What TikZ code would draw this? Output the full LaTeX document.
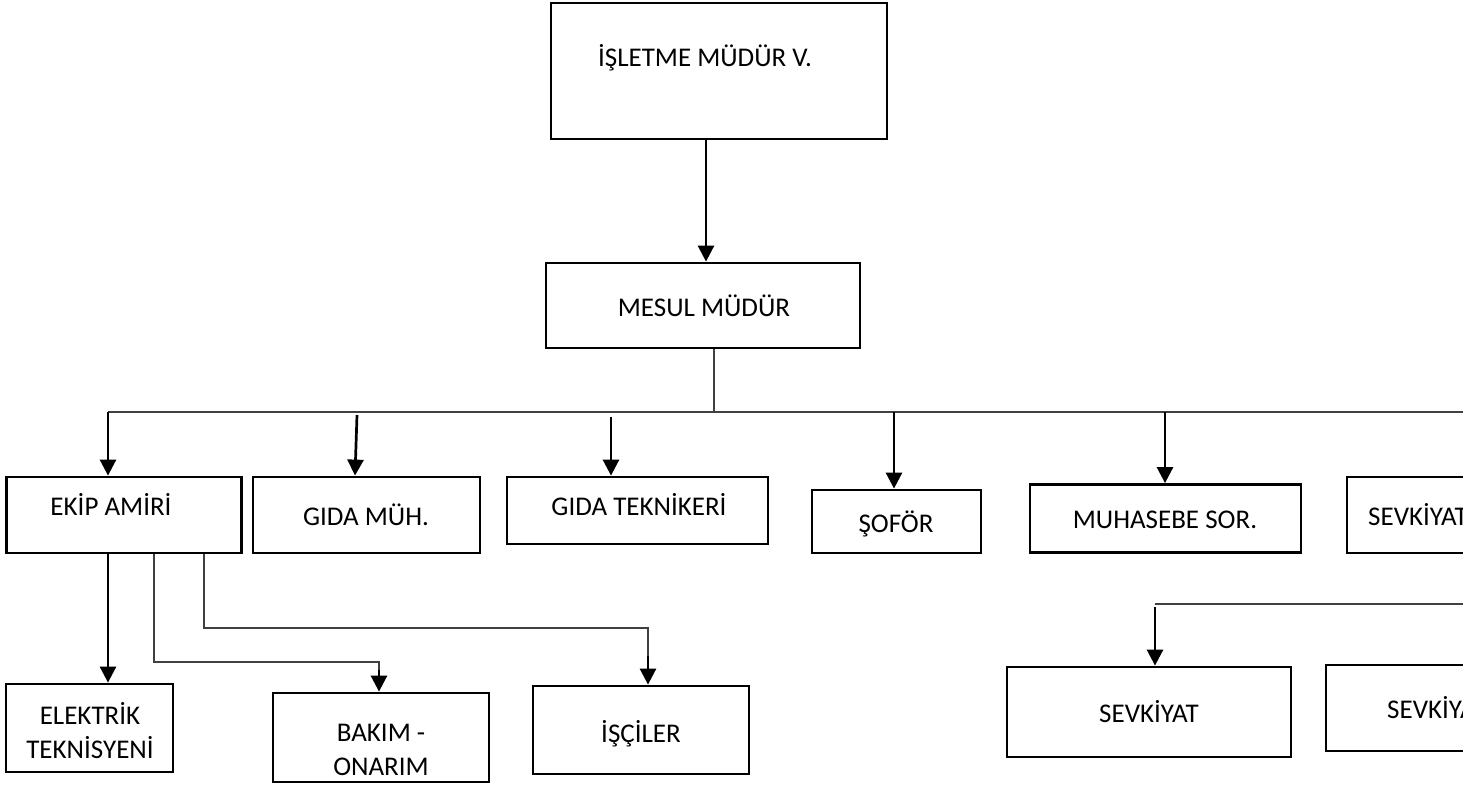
\documentclass[tikz,border=0pt]{standalone}
\usepackage{fontspec}
\setmainfont{Carlito}
\usetikzlibrary{arrows.meta}
\begin{document}
\begin{tikzpicture}[x=1pt,y=-1pt,
  box/.style={draw=black,line width=2.8pt,rectangle,inner sep=0pt},
  txt/.style={anchor=base,inner sep=0pt,font=\fontsize{27}{32}\selectfont},
  arr/.style={line width=2.7pt,-{Triangle[width=16pt,length=16pt]}},
  thin/.style={line width=1.4pt,draw=black!75}]
\useasboundingbox (0,0) rectangle (1463,785);
\clip (0,0) rectangle (1463,785);
% boxes
\node[box,minimum width=336pt,minimum height=136pt] (top) at (719,71) {};
\node[box,minimum width=314pt,minimum height=85pt] (mesul) at (703,305.5) {};
\node[box,minimum width=235pt,minimum height=76pt] (ekip) at (124,515) {};
\node[box,minimum width=227pt,minimum height=76pt] (gmuh) at (366.5,515) {};
\node[box,minimum width=261pt,minimum height=67pt] (gtek) at (637.5,510.5) {};
\node[box,minimum width=169pt,minimum height=63pt] (sofor) at (896.5,521.5) {};
\node[box,minimum width=271pt,minimum height=68pt] (muh) at (1165.5,518.5) {};
\node[box,minimum width=270pt,minimum height=76pt] (sevk1) at (1482,515) {};
\node[box,minimum width=167pt,minimum height=88pt] (elek) at (89.5,728) {};
\node[box,minimum width=216pt,minimum height=89pt] (bakim) at (381,737.5) {};
\node[box,minimum width=216pt,minimum height=88pt] (isci) at (641,730) {};
\node[box,minimum width=284pt,minimum height=90pt] (sevk2) at (1149,712) {};
\node[box,minimum width=283pt,minimum height=86pt] (sevk3) at (1467.5,708) {};
% texts
\node[txt] (topT) at (705,66) {İŞLETME MÜDÜR V.};
\node[txt] (mesulT) at (704,316) {MESUL MÜDÜR};
\node[txt] (ekipT) at (111,515) {EKİP AMİRİ};
\node[txt] (gmuhT) at (366,525) {GIDA MÜH.};
\node[txt] (gtekT) at (639,515) {GIDA TEKNİKERİ};
\node[txt] (soforT) at (896,532) {ŞOFÖR};
\node[txt] (muhT) at (1165,528) {MUHASEBE SOR.};
\node[txt,anchor=base west] (sevk1T) at (1368,525) {SEVKİYAT};
\node[txt] (elekT1) at (90,724) {ELEKTRİK};
\node[txt] (elekT2) at (90,758) {TEKNİSYENİ};
\node[txt] (bakimT1) at (381,741) {BAKIM -};
\node[txt] (bakimT2) at (381,775) {ONARIM};
\node[txt] (isciT) at (641,742) {İŞÇİLER};
\node[txt] (sevk2T) at (1149,722) {SEVKİYAT};
\node[txt,anchor=base west] (sevk3T) at (1387,718) {SEVKİYAT};
% coordinates
\coordinate (x706) at (706,0);
\coordinate (m0) at (714,0);
\coordinate (busL) at (108,412);
\coordinate (busR) at (1480,412);
\coordinate (bm) at (714,412);
\coordinate (g1a) at (357,415);
\coordinate (g1b) at (355,0);
\coordinate (g2a) at (611,417);
\coordinate (s1) at (894,412);
\coordinate (mu1) at (1165,412);
\coordinate (e1) at (108,0);
\coordinate (e2) at (154,0);
\coordinate (e2c) at (154,662);
\coordinate (e2d) at (379,662);
\coordinate (e2e) at (379,670);
\coordinate (e3) at (204,0);
\coordinate (e3c) at (204,628);
\coordinate (e3d) at (648,628);
\coordinate (e3e) at (648,656);
\coordinate (sv1) at (1480,604);
\coordinate (sv2) at (1155,604);
\coordinate (sv3) at (1155,607);
% connectors
\draw[arr] (top.south -| x706) -- (mesul.north -| x706);
\draw[thin] (mesul.south -| m0) -- (bm);
\draw[thin] (busL) -- (busR);
\draw[arr] (busL) -- (ekip.north -| busL);
\draw[arr] (g1a) -- (gmuh.north -| g1b);
\draw[arr] (g2a) -- (gtek.north -| g2a);
\draw[arr] (s1) -- (sofor.north -| s1);
\draw[arr] (mu1) -- (muh.north -| mu1);
\draw[arr] (ekip.south -| e1) -- (elek.north -| e1);
\draw[thin] (ekip.south -| e2) -- (e2c) -- (e2d) -- (e2e);
\draw[arr] (e2e) -- (bakim.north -| e2e);
\draw[thin] (ekip.south -| e3) -- (e3c) -- (e3d) -- (e3e);
\draw[arr] (e3e) -- (isci.north -| e3e);
\draw[thin] (sv1) -- (sv2);
\draw[arr] (sv3) -- (sevk2.north -| sv3);
\end{tikzpicture}
\end{document}
